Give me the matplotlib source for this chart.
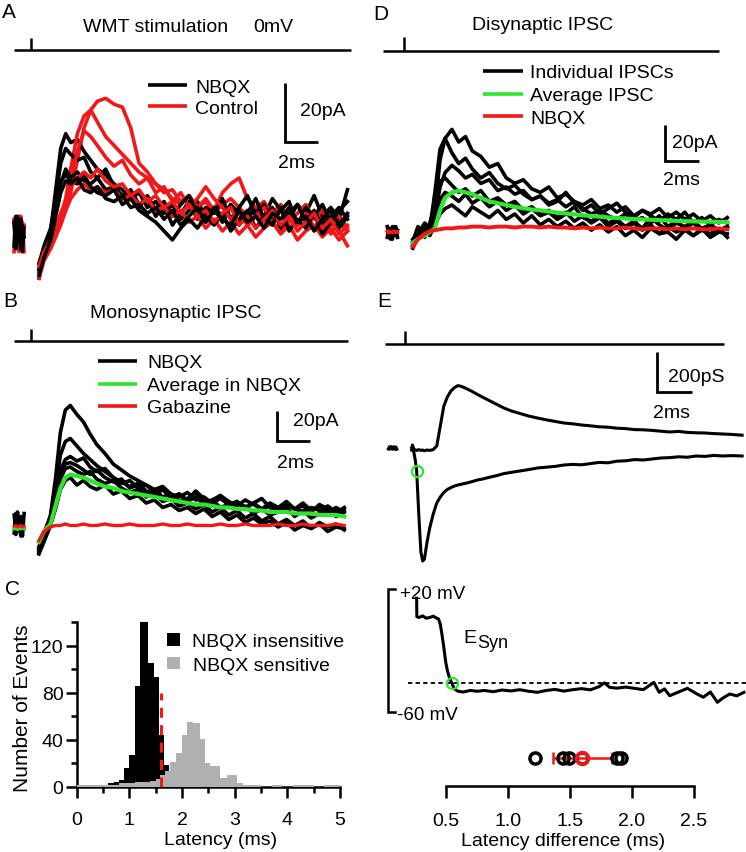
import numpy as np
import matplotlib
matplotlib.use('Agg')
import matplotlib.pyplot as plt
from matplotlib.ticker import MultipleLocator

plt.rcParams['font.family'] = ['Liberation Sans', 'DejaVu Sans']
plt.rcParams['font.size'] = 14

W, H = 746, 853
RED = '#f01818'
GREEN = '#30e430'
GRAY = '#b0b0b0'

# ---------------- data ----------------
# time bases (ms after stimulus)
t_pre = [-1.0, -0.9, -0.8, -0.7, -0.6, -0.5, -0.4]
t_trace = [0.5, 0.8, 1.2, 1.5, 1.8, 2.1, 2.4, 2.8, 3.2, 3.6,
           4.0, 4.5, 5.0, 5.5, 6.0, 6.5, 7.0, 7.5, 8.0, 8.5,
           9.0, 9.5, 10.0, 10.5, 11.0, 11.5, 12.0, 12.5, 13.0, 13.5,
           14.0, 14.5, 15.0, 15.5, 16.0, 16.5, 17.0, 17.5, 18.0, 18.5, 19.0]

# A: WMT stimulation at 0 mV (pA)
a_nbqx = [
    [-13, -5, 1, 15, 29, 34, 31, 32, 28, 25, 22, 20, 17, 15, 12, 14, 9, 11, 7, 10,
     5, 8, 11, 6, 9, 4, 10, 7, 5, 9, 6, 12, 8, 5, 10, 7, 13, 6, 9, 5, 15],
    [-10, -4, 2, 12, 24, 29, 27, 25, 26, 21, 19, 22, 16, 13, 15, 10, 12, 6, 10, 3,
     7, 11, 5, 9, 7, 12, 5, 9, 13, 6, 10, 4, 8, 11, 3, 9, 6, 10, 4, 8, 11],
    [-15, -7, -1, 8, 17, 22, 19, 21, 18, 17, 19, 15, 16, 12, 14, 9, 13, 8, 11, 6,
     10, 13, 7, 4, 9, 6, 10, 3, 7, 12, 5, 9, 2, 7, 10, 4, 8, 3, 6, 9, 5],
    [-12, -5, 0, 10, 18, 20, 18, 17, 20, 16, 14, 13, 15, 10, 12, 8, 6, 4, 1, -2,
     2, 5, 2, 6, 3, 7, 1, 5, 8, 2, 6, 3, 9, 1, 5, 2, 7, 0, 4, 2, 6],
    [-14, -8, -2, 6, 14, 18, 17, 19, 15, 14, 16, 12, 11, 13, 9, 10, 7, 9, 5, 8,
     3, 6, 9, 4, 8, 5, 3, 8, 4, 6, 2, 7, 5, 9, 4, 6, 1, 5, 8, 3, 7],
]
a_control = [
    [-12, -7, -3, 0, 4, 8, 14, 25, 36, 42, 45, 46, 44, 43, 36, 24, 21, 17, 15, 12,
     10, 13, 9, 11, 7, 10, 12, 9, 6, 8, 4, 7, 10, 5, 3, 8, 2, 6, 4, 1, -4],
    [-10, -5, -1, 2, 6, 12, 22, 34, 40, 42, 38, 33, 30, 27, 24, 21, 19, 17, 14, 15,
     11, 13, 9, 12, 8, 14, 17, 19, 12, 9, 11, 6, 9, 4, 7, 10, 5, 8, 3, 6, 2],
    [-13, -8, -4, 0, 5, 10, 18, 28, 35, 33, 30, 26, 23, 25, 20, 17, 19, 14, 16, 11,
     14, 9, 12, 16, 12, 9, 5, 7, 3, 6, 9, 4, 1, 5, 3, 7, 2, 5, 0, 4, 1],
    [-15, -9, -5, -1, 3, 8, 12, 15, 17, 15, 16, 14, 15, 12, 13, 10, 12, 8, 9, 6,
     8, 4, 6, 2, 5, 1, 4, 0, 3, -1, 2, 4, 0, 3, -2, 1, 3, -1, 2, -2, 1],
    [-11, -6, -2, 2, 7, 11, 16, 19, 21, 19, 22, 18, 16, 17, 13, 15, 11, 13, 9, 11,
     7, 10, 6, 8, 4, 7, 9, 3, 6, 2, 5, 8, 3, 6, 1, 4, 7, 2, 5, 0, 3],
]
a_pre_nbqx = [[4, -5, 6, -3, 5, -6, 2], [-4, 6, -2, 5, -5, 3, -1]]
a_pre_control = [[-6, 3, -5, 6, -2, 4, -6], [5, -3, 4, -6, 6, -4, 3]]

# B: monosynaptic IPSC (pA)
b_nbqx = [
    [-16, -6, 8, 32, 63, 78, 81, 75, 70, 62, 55, 49, 42, 38, 34, 31, 28, 25, 27, 22,
     20, 23, 18, 20, 16, 19, 15, 17, 13, 16, 12, 14, 11, 15, 12, 10, 13, 11, 14, 10, 12],
    [-14, -5, 6, 26, 48, 57, 59, 54, 49, 45, 41, 37, 33, 29, 31, 26, 28, 23, 25, 20,
     22, 18, 24, 19, 16, 21, 17, 14, 18, 15, 12, 16, 13, 17, 12, 14, 10, 15, 12, 9, 13],
    [-17, -8, 4, 20, 38, 45, 47, 44, 46, 40, 37, 39, 33, 30, 27, 29, 24, 21, 25, 19,
     22, 17, 20, 15, 18, 21, 14, 17, 12, 16, 19, 13, 10, 15, 12, 16, 11, 14, 9, 13, 10],
    [-15, -7, 3, 16, 32, 39, 40, 37, 35, 37, 32, 29, 31, 26, 23, 25, 20, 22, 17, 19,
     14, 16, 12, 15, 10, 13, 8, 11, 6, 9, 4, 7, 2, 5, 1, 4, -1, 3, 0, 2, -2],
    [-18, -10, 1, 12, 25, 31, 33, 28, 31, 27, 25, 28, 22, 24, 19, 21, 16, 18, 13, 15,
     11, 13, 9, 12, 7, 10, 5, 8, 3, 6, 2, 4, 0, 3, -2, 1, -1, 2, -3, 0, -1],
    [-13, -4, 7, 22, 36, 42, 43, 41, 38, 35, 38, 33, 30, 32, 26, 28, 23, 25, 20, 22,
     17, 19, 23, 16, 18, 13, 15, 11, 14, 9, 12, 8, 10, 13, 7, 11, 6, 9, 12, 7, 10],
]
b_average = [-10, -3, 2, 14, 26, 33, 35, 34, 33, 31, 29, 27, 26, 24, 23, 22, 21, 20, 19, 18,
             17, 16, 15, 15, 14, 13, 13, 12, 12, 11, 11, 10, 10, 10, 9, 9, 9, 8, 8, 8, 7]
b_gabazine = [-9, -3, 0, 1, 1, 2, 1, 1, 2, 1, 1, 2, 1, 1, 2, 1, 1, 1, 2, 1,
              1, 2, 1, 1, 1, 2, 1, 1, 2, 1, 1, 1, 2, 1, 1, 2, 1, 1, 1, 2, 1]
b_pre_nbqx = [[8, -5, 10, -3, 7, -6, 9], [-4, 9, -2, 6, -6, 4, -1]]
b_pre_average = [-1, -0.5, -1.5, -1, -0.5, -1, -1]
b_pre_gabazine = [0.5, 1, 0, 0.5, 1, 0, 0.5]

# D: disynaptic IPSC (pA)
d_ipsc = [
    [-6, 3, -2, 4, 12, 40, 52, 57, 50, 53, 45, 42, 36, 38, 30, 27, 29, 24, 22, 25,
     19, 21, 17, 15, 18, 13, 15, 11, 14, 9, 12, 10, 13, 8, 11, 7, 10, 6, 9, 5, 8],
    [-4, -1, 5, 2, 22, 46, 52, 44, 38, 41, 35, 30, 33, 27, 24, 26, 21, 18, 20, 16,
     18, 14, 17, 12, 15, 10, 13, 16, 11, 8, 12, 9, 6, 10, 7, 11, 5, 8, 4, 7, 5],
    [-8, -2, 3, -1, 8, 25, 33, 37, 34, 30, 32, 27, 29, 23, 25, 21, 23, 18, 20, 15,
     17, 22, 16, 13, 10, 12, 9, 7, 10, 6, 8, 5, 9, 3, 6, 2, 5, 1, 4, 0, 3],
    [-5, 2, -3, 5, 15, 28, 30, 26, 22, 24, 20, 23, 17, 19, 15, 17, 12, 14, 10, 12,
     8, 11, 6, 9, 5, 8, 3, 6, 2, 5, 1, 4, -1, 3, 0, 2, -2, 1, -1, 2, -3],
    [-9, -3, 1, -2, 4, 10, 13, 15, 12, 9, 14, 11, 8, 12, 7, 10, 5, 9, 4, 7,
     3, 6, 2, 5, 1, 4, 0, 3, -2, 1, -3, 2, -1, 0, -4, 1, -2, 2, -3, 0, -1],
    [-7, 1, -1, 3, 9, 18, 22, 20, 17, 21, 16, 19, 14, 17, 12, 15, 10, 13, 9, 11,
     7, 10, 14, 8, 6, 9, 5, 7, 3, 6, 2, 8, 4, 1, 5, 3, 6, 2, 4, 1, 3],
]
d_average = [-6, -4, -2, 0, 2, 12, 19, 22, 23, 22, 21, 19, 17, 16, 15, 14, 13.2, 12.5, 12, 11.4,
             10.8, 10.3, 9.8, 9.3, 8.9, 8.5, 8.1, 7.8, 7.5, 7.2, 7.0, 6.8, 6.6, 6.4, 6.2,
             6.0, 5.9, 5.8, 5.7, 5.6, 5.5]
d_nbqx = [-8, -4, -1, 0.5, 1, 1.5, 2, 2, 2.5, 2.5, 3, 3, 2.5, 3, 3, 2.5, 3, 3, 2.5, 3,
          2.5, 2.5, 2, 2.5, 2, 2.5, 2, 2, 2.5, 2, 1.5, 2, 2, 1.5, 2, 1.5, 2, 1.5, 1.5, 2, 1.5]
d_pre_ipsc = [[3, -3, 2, -4, 3, -2, 1], [-3, 2, -4, 3, -1, 3, -3]]
d_pre_nbqx = [0.5, -0.5, 0.3, -0.3, 0.5, -0.2, 0]

# E: conductances (pS)
t_cond = [0.38, 0.42, 0.5, 0.58, 0.66, 0.78, 0.9, 1.0, 1.1, 1.25,
          1.4, 1.6, 1.8, 2.0, 2.2, 2.4, 2.6, 2.8, 3.0, 3.2,
          3.5, 3.8, 4.1, 4.4, 4.8, 5.2, 5.6, 6.0, 6.5, 7.0,
          7.5, 8.0, 8.5, 9.0, 9.5, 10.0, 10.5, 11.0, 11.5, 12.0,
          12.5, 13.0, 13.5, 14.0, 14.5, 15.0, 15.5, 16.0, 16.5, 17.0,
          17.5, 18.0, 18.5, 19.1]
g_inh = [-10, 15, -5, -10, -12, -8, -12, -10, -14, -10,
         -12, -8, 10, 110, 210, 255, 285, 302, 312, 308,
         296, 283, 268, 254, 236, 218, 200, 186, 173, 160,
         150, 141, 133, 125, 121, 115, 111, 106, 104, 99,
         97, 92, 91, 88, 84, 80, 83, 78, 76, 75,
         72, 70, 68, 64]
g_exc = [0, -5, -20, -60, -113, -330, -520, -565, -555, -470,
         -400, -330, -275, -245, -222, -207, -198, -190, -185, -181,
         -175, -168, -160, -155, -146, -138, -128, -122, -115, -108,
         -100, -96, -92, -85, -82, -84, -78, -72, -74, -66,
         -64, -58, -60, -55, -50, -48, -44, -46, -40, -42,
         -37, -40, -38, -40]
g_pre = [2, -2, 3, -2, 2, -3, 1]
exc_onset = (0.66, -113)

# E: synaptic reversal potential (mV)
t_esyn = [0.66, 0.67, 0.8, 1.0, 1.2, 1.4, 1.6, 1.8, 1.9, 2.0,
          2.1, 2.2, 2.3, 2.4, 2.5, 2.64, 2.8, 3.0, 3.3, 3.7,
          4.1, 4.5, 5.0, 5.5, 6.0, 6.5, 7.0, 7.5, 8.0, 8.5,
          9.0, 9.5, 10.0, 10.5, 11.0, 11.3, 11.6, 12.0, 12.5, 13.0,
          13.5, 14.1, 14.4, 14.7, 15.0, 15.5, 16.0, 16.5, 16.9, 17.3,
          17.7, 18.0, 18.4, 18.8, 19.2]
v_esyn = [14, 2, 1.5, 2.5, 1, 1.5, 2.3, 1, 0.5, -3,
          -10, -18, -27, -33, -37, -41, -45, -46.5, -47, -46,
          -46.5, -46, -46.8, -45.7, -46.3, -45.5, -46.5, -47.2, -46, -45.3,
          -46.4, -45.5, -44.8, -45.6, -43.5, -41, -44, -44.5, -43.8, -44.6,
          -45.5, -40.7, -47.2, -45, -49.4, -47, -44.6, -48, -50.4, -47,
          -53.7, -51, -48.3, -49.5, -47.2]
esyn_level = -41
esyn_cross = (2.64, -41)
v_range = (20, -60)

# E: latency differences (ms)
lat_diff = [1.22, 1.44, 1.49, 1.60, 1.88, 1.91]
lat_mean = 1.60
lat_err = 0.24

# C: latency histograms
black_edges = [0.6, 0.7, 0.8, 0.9, 1.0, 1.1, 1.2, 1.36, 1.46, 1.56, 1.66, 1.76]
black_counts = [3, 4, 6, 16, 27, 86, 140, 105, 93, 44, 19]
gray_edges = [0.0, 0.1, 0.2, 0.3, 0.4, 0.5, 0.6, 0.7, 0.8, 0.9,
              1.0, 1.1, 1.2, 1.3, 1.4, 1.5, 1.58, 1.68, 1.77, 1.89,
              2.0, 2.1, 2.2, 2.34, 2.44, 2.54, 2.72, 2.85, 3.05, 3.16,
              3.3, 3.5, 3.7, 3.9, 4.1, 4.3, 4.5, 4.7, 4.9, 5.0]
gray_counts = [2, 1.5, 2, 1.5, 2, 2, 2, 2, 3, 3,
               3, 4, 4, 4, 5, 7, 10, 14, 21, 29,
               44, 55, 54, 41, 20, 18, 8, 10, 3, 2,
               2, 0, 1.5, 0, 1.5, 1.5, 0, 1.5, 1.5]
cutoff = 1.61


# ---------------- helpers ----------------
def px_axes(fig, left, top, right, bottom):
    return fig.add_axes([left / W, 1 - bottom / H, (right - left) / W, (bottom - top) / H])


def trace_axes(fig, box, x0, xs, y0, ys):
    """axes whose data units map onto a pixel box (x0/y0 = pixel of zero, xs/ys = px per unit)"""
    l, t, r, b = box
    ax = px_axes(fig, l, t, r, b)
    ax.set_xlim((l - x0) / xs, (r - x0) / xs)
    ax.set_ylim((y0 - b) / ys, (y0 - t) / ys)
    ax.axis('off')
    return ax


def stim_line(ax, t0, t1, y, h):
    ax.plot([t0, t1], [y, y], color='k', lw=1.8, solid_capstyle='butt')
    ax.plot([0, 0], [y, y + h], color='k', lw=1.8, solid_capstyle='butt')


def scale_bar(ax, t, y, dt, dy):
    ax.plot([t, t, t + dt], [y + dy, y, y], color='k', lw=2.0,
            solid_joinstyle='miter', solid_capstyle='butt')


def txt(ov, x, y, s, size=14, **kw):
    ov.text(x, y, s, fontsize=size, va='baseline', **kw)


def legend_line(ov, x0, x1, y, color):
    ov.plot([x0, x1], [y, y], color=color, lw=2.6, solid_capstyle='butt')


def main():
    fig = plt.figure(figsize=(W / 100, H / 100), dpi=100)
    LW = 2.6

    # ---- A ----
    ax = trace_axes(fig, (0, 0, 370, 290), 30.7, 16.67, 235, 2.95)
    stim_line(ax, -1.0, 19.2, 62.4, 4.0)
    for pre in a_pre_control:
        ax.plot(t_pre, pre, color=RED, lw=LW)
    for pre in a_pre_nbqx:
        ax.plot(t_pre, pre, color='k', lw=LW)
    for red, blk in zip(a_control, a_nbqx):
        ax.plot(t_trace, red, color=RED, lw=LW)
        ax.plot(t_trace, blk, color='k', lw=LW)
    scale_bar(ax, 15.26, 31.2, 2, 20)

    # ---- B ----
    ax = trace_axes(fig, (0, 290, 370, 565), 30.7, 16.5, 528, 1.5)
    stim_line(ax, -1.0, 19.2, 124, 8)
    for pre in b_pre_nbqx:
        ax.plot(t_pre, pre, color='k', lw=LW)
    ax.plot(t_pre, b_pre_average, color=GREEN, lw=2.6)
    ax.plot(t_pre, b_pre_gabazine, color=RED, lw=2.2)
    for tr in b_nbqx:
        ax.plot(t_trace, tr, color='k', lw=LW)
    ax.plot(t_trace, b_average, color=GREEN, lw=3.0)
    ax.plot(t_trace, b_gabazine, color=RED, lw=2.4)
    scale_bar(ax, 14.93, 57.3, 2, 20)

    # ---- D ----
    ax = trace_axes(fig, (370, 0, 746, 290), 404.3, 17.0, 233, 1.8)
    stim_line(ax, -1.25, 18.5, 100.6, 7.7)
    for pre in d_pre_ipsc:
        ax.plot(t_pre, pre, color='k', lw=LW)
    ax.plot(t_pre, d_pre_nbqx, color=RED, lw=2.6)
    for tr in d_ipsc:
        ax.plot(t_trace, tr, color='k', lw=LW)
    ax.plot(t_trace, d_average, color=GREEN, lw=3.0)
    ax.plot(t_trace, d_nbqx, color=RED, lw=2.8)
    scale_bar(ax, 15.34, 39.4, 2, 20)

    # ---- E conductances ----
    ax = trace_axes(fig, (370, 290, 746, 580), 405, 17.65, 449, 0.2)
    stim_line(ax, -1.13, 18.07, 520, 65)
    ax.plot(t_pre, g_pre, color='k', lw=3.4, solid_capstyle='butt')
    ax.plot(t_cond, g_inh, color='k', lw=2.2)
    ax.plot(t_cond, g_exc, color='k', lw=2.2)
    ax.plot(*exc_onset, 'o', ms=8, mfc='none', mec=GREEN, mew=1.6)
    scale_bar(ax, 14.28, 280, 2, 200)

    # ---- E reversal potential ----
    ax = trace_axes(fig, (370, 580, 746, 735), 405, 17.65, 620.75, 1.5375)
    ax.plot([-0.57, -0.96, -0.96, -0.57], [v_range[0], v_range[0], v_range[1], v_range[1]],
            color='k', lw=1.8, solid_joinstyle='miter')
    ax.plot([0.17, 19.3], [esyn_level, esyn_level], color='k', lw=1.3, dashes=(2.4, 1.8))
    ax.plot(t_esyn, v_esyn, color='k', lw=2.2)
    ax.plot(*esyn_cross, 'o', ms=8, mfc='none', mec=GREEN, mew=1.6)

    # ---- E latency differences ----
    ax = px_axes(fig, 446, 731, 694, 787)
    ax.set_facecolor('none')
    ax.errorbar([lat_mean], [0.5], xerr=[lat_err], fmt='none', ecolor=RED,
                elinewidth=1.8, capsize=4, capthick=1.8, zorder=2)
    ax.plot(lat_diff, [0.5] * len(lat_diff), 'o', ms=8, mfc='none', mec='k', mew=2.5, zorder=3)
    ax.plot([lat_mean], [0.5], 'o', ms=8.5, mfc='none', mec=RED, mew=2.6, zorder=4)
    ax.set_xlim(0.5, 2.5)
    ax.set_ylim(0, 1)
    for s in ['left', 'right', 'top']:
        ax.spines[s].set_visible(False)
    ax.spines['bottom'].set_linewidth(1.8)
    ax.set_yticks([])
    ax.set_xticks([0.5, 1.0, 1.5, 2.0, 2.5])
    ax.tick_params(axis='x', direction='out', length=8.5, width=1.8, labelsize=14, pad=10)

    # ---- C histogram ----
    ax = px_axes(fig, 76.7, 623, 340, 788)
    ax.set_facecolor('none')
    ax.stairs(black_counts, black_edges, fill=True, color='k', zorder=2)
    ax.stairs(gray_counts, gray_edges, fill=True, color=GRAY, zorder=3)
    ax.plot([cutoff, cutoff], [0, 80], color=RED, lw=2.2, dashes=(3.3, 2.4), zorder=4)
    ax.set_xlim(0, 5)
    ax.set_ylim(0, 140)
    for s in ['right', 'top']:
        ax.spines[s].set_visible(False)
    for s in ['left', 'bottom']:
        ax.spines[s].set_linewidth(1.8)
        ax.spines[s].set_zorder(1)
    ax.xaxis.set_major_locator(MultipleLocator(1))
    ax.xaxis.set_minor_locator(MultipleLocator(0.5))
    ax.yaxis.set_major_locator(MultipleLocator(40))
    ax.yaxis.set_minor_locator(MultipleLocator(20))
    ax.tick_params(which='major', direction='out', length=8, width=1.8, labelsize=14)
    ax.tick_params(which='minor', direction='out', length=4.5, width=1.8)
    ax.tick_params(axis='x', which='major', pad=9)
    ax.tick_params(axis='y', which='major', pad=1.5)

    # ---- overlay: text and legends in pixel coordinates ----
    ov = fig.add_axes([0, 0, 1, 1])
    ov.set_xlim(0, W)
    ov.set_ylim(H, 0)
    ov.axis('off')

    for letter, x, y in [('A', 2, 18), ('B', 3, 307), ('C', 5, 595), ('D', 373, 20), ('E', 377, 307)]:
        txt(ov, x, y, letter, size=15)

    txt(ov, 83, 32, 'WMT stimulation')
    txt(ov, 253, 32, '0mV')
    txt(ov, 90, 318, 'Monosynaptic IPSC')
    txt(ov, 472, 30, 'Disynaptic IPSC')

    # legends A
    legend_line(ov, 148, 187, 86, 'k')
    legend_line(ov, 148, 187, 107.3, RED)
    txt(ov, 195, 93, 'NBQX')
    txt(ov, 195, 114, 'Control')
    # legends B
    legend_line(ov, 98, 137, 361.7, 'k')
    legend_line(ov, 98, 137, 385, GREEN)
    legend_line(ov, 98, 137, 407.3, RED)
    txt(ov, 147, 368, 'NBQX')
    txt(ov, 147, 391, 'Average in NBQX')
    txt(ov, 147, 413, 'Gabazine')
    # legends D
    legend_line(ov, 483, 523, 71.7, 'k')
    legend_line(ov, 483, 523, 95, GREEN)
    legend_line(ov, 483, 523, 117.3, RED)
    txt(ov, 530, 78, 'Individual IPSCs')
    txt(ov, 530, 101, 'Average IPSC')
    txt(ov, 530, 124, 'NBQX')

    # scale bar labels
    txt(ov, 300, 116, '20pA')
    txt(ov, 278, 168, '2ms')
    txt(ov, 293, 426, '20pA')
    txt(ov, 277, 468, '2ms')
    txt(ov, 672, 148, '20pA')
    txt(ov, 663, 185, '2ms')
    txt(ov, 668, 382, '200pS')
    txt(ov, 653, 418, '2ms')

    # E lower labels
    txt(ov, 400, 599, '+20 mV', size=13.5)
    txt(ov, 397, 720, '-60 mV', size=13.5)
    txt(ov, 463, 643, 'E', size=14)
    txt(ov, 477, 648, 'Syn', size=13)
    txt(ov, 563, 846, 'Latency difference (ms)', ha='center')

    # C labels and legend
    txt(ov, 221, 845, 'Latency (ms)', ha='center')
    ov.text(23, 708, 'Number of Events', fontsize=15, rotation=90, ha='center', va='center')
    ov.add_patch(plt.Rectangle((167, 634), 13, 13, color='k', lw=0))
    ov.add_patch(plt.Rectangle((167, 658), 13, 12, color=GRAY, lw=0))
    txt(ov, 192, 647, 'NBQX insensitive')
    txt(ov, 193, 671, 'NBQX sensitive')

    fig.savefig('out.png', dpi=100)


if __name__ == '__main__':
    main()
